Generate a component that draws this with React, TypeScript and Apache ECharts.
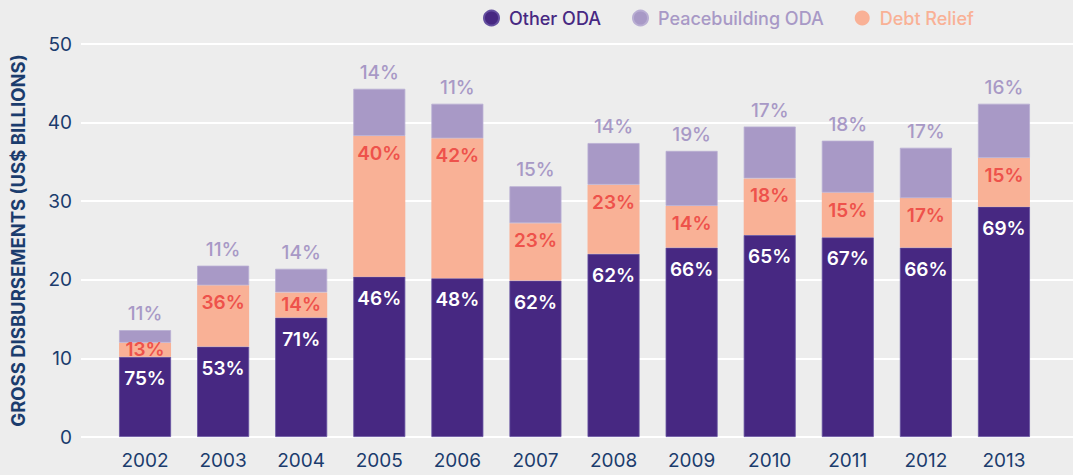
import React, { useEffect, useRef } from "react";
import * as echarts from "echarts";

const years = ["2002", "2003", "2004", "2005", "2006", "2007", "2008", "2009", "2010", "2011", "2012", "2013"];
const otherODA = [10.2, 11.5, 15.2, 20.4, 20.2, 19.9, 23.3, 24.1, 25.7, 25.4, 24.1, 29.3];
const debtRelief = [1.8, 7.8, 3.2, 17.9, 17.8, 7.3, 8.8, 5.3, 7.2, 5.7, 6.3, 6.2];
const peacebuildingODA = [1.6, 2.5, 3.0, 6.0, 4.4, 4.7, 5.3, 7.0, 6.6, 6.6, 6.4, 6.9];
const otherPct = [75, 53, 71, 46, 48, 62, 62, 66, 65, 67, 66, 69];
const debtPct = [13, 36, 14, 40, 42, 23, 23, 14, 18, 15, 17, 15];
const peacePct = [11, 11, 14, 14, 11, 15, 14, 19, 17, 18, 17, 16];
const yTicks = [0, 10, 20, 30, 40, 50];

const C_OTHER = "#472882";
const C_PEACE = "#a899c6";
const C_DEBT = "#f9b196";
const C_DEBT_TXT = "#ee524b";
const C_AXIS = "#1b3c6d";
const FONT = "Inter";

export default function App() {
  const ref = useRef<HTMLDivElement>(null);
  useEffect(() => {
    if (!ref.current) return;
    const chart = echarts.init(ref.current, undefined, { renderer: "svg" });
    const top = 44;
    const bottom = 38;
    chart.setOption({
      animation: false,
      backgroundColor: "#ededed",
      textStyle: { fontFamily: FONT },
      legend: {
        left: 478,
        top: 4,
        icon: "circle",
        itemWidth: 15,
        itemHeight: 15,
        itemGap: 31,
        selectedMode: false,
        data: [
          { name: "Other ODA", textStyle: { color: C_OTHER } },
          { name: "Peacebuilding ODA", textStyle: { color: C_PEACE } },
          { name: "Debt Relief", textStyle: { color: C_DEBT } },
        ],
        textStyle: { fontFamily: FONT, fontSize: 18, fontWeight: 500, padding: [0, 0, 0, 5] },
      },
      grid: [
        { left: 81, right: 0, top, bottom },
        { left: 106, right: 30, top, bottom },
      ],
      xAxis: [
        { type: "category", gridIndex: 0, data: years, show: false },
        {
          type: "category",
          gridIndex: 1,
          data: years,
          axisLine: { show: false },
          axisTick: { show: false },
          axisLabel: { color: C_AXIS, fontSize: 19, fontFamily: FONT, margin: 14 },
        },
      ],
      yAxis: [
        {
          type: "value",
          gridIndex: 0,
          min: yTicks[0],
          max: yTicks[yTicks.length - 1],
          interval: 10,
          axisLine: { show: false },
          axisTick: { show: false },
          splitLine: { lineStyle: { color: "#ffffff", width: 2 } },
          axisLabel: { color: C_AXIS, fontSize: 19, fontFamily: FONT, margin: 9 },
          name: "GROSS DISBURSEMENTS (US$ BILLIONS)",
          nameLocation: "middle",
          nameGap: 54,
          nameTextStyle: { color: C_AXIS, fontSize: 18.5, fontWeight: "bold", fontFamily: FONT },
        },
        {
          type: "value",
          gridIndex: 1,
          min: yTicks[0],
          max: yTicks[yTicks.length - 1],
          interval: 10,
          show: false,
          splitLine: { show: false },
        },
      ],
      series: [
        {
          name: "Other ODA",
          type: "bar",
          stack: "total",
          xAxisIndex: 1,
          yAxisIndex: 1,
          barWidth: 52,
          itemStyle: { color: C_OTHER, borderColor: "#6550a0", borderWidth: 0.8 },
          data: otherODA,
          label: {
            show: true,
            position: "insideTop",
            distance: 12,
            color: "#ffffff",
            fontSize: 19,
            fontWeight: 600,
            fontFamily: FONT,
            formatter: (p: any) => otherPct[p.dataIndex] + "%",
          },
        },
        {
          name: "Debt Relief",
          type: "bar",
          stack: "total",
          xAxisIndex: 1,
          yAxisIndex: 1,
          barWidth: 52,
          itemStyle: { color: C_DEBT },
          data: debtRelief.map((v) => ({
            value: v,
            label: { position: v < 4 ? "inside" : "insideTop" },
          })),
          label: {
            show: true,
            position: "insideTop",
            distance: 8,
            color: C_DEBT_TXT,
            fontSize: 19,
            fontWeight: 600,
            fontFamily: FONT,
            formatter: (p: any) => debtPct[p.dataIndex] + "%",
          },
        },
        {
          name: "Peacebuilding ODA",
          type: "bar",
          stack: "total",
          xAxisIndex: 1,
          yAxisIndex: 1,
          barWidth: 52,
          itemStyle: { color: C_PEACE, borderColor: "#b9aed3", borderWidth: 0.8 },
          data: peacebuildingODA,
          label: {
            show: true,
            position: "top",
            distance: 7,
            color: C_PEACE,
            fontSize: 19,
            fontWeight: 500,
            fontFamily: FONT,
            formatter: (p: any) => peacePct[p.dataIndex] + "%",
          },
        },
      ],
    });
    return () => chart.dispose();
  }, []);
  return <div ref={ref} style={{ width: 1073, height: 475, position: "fixed", left: 0, top: 0 }} />;
}
